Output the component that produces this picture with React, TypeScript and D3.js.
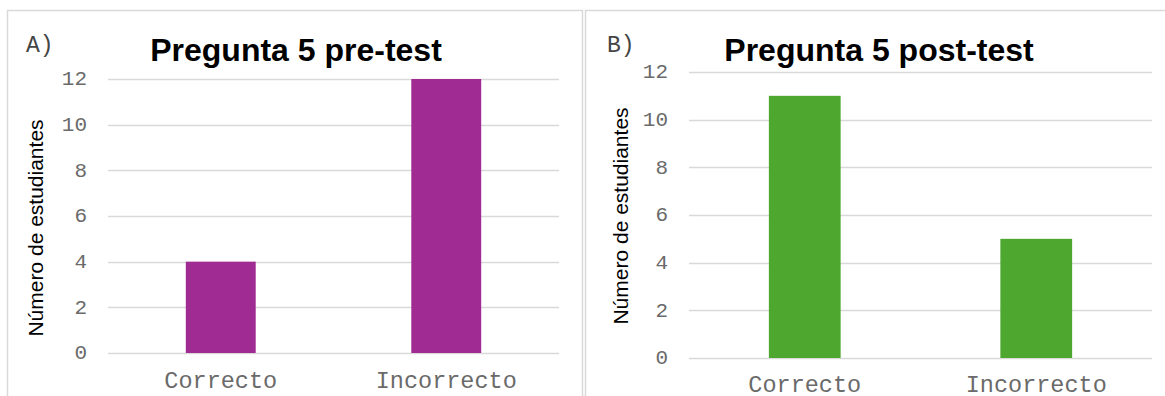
import React from "react";
import * as d3 from "d3";

const categories = ["Correcto", "Incorrecto"];
const preTestValues = [4, 12];
const postTestValues = [11, 5];
const yTicks = [0, 2, 4, 6, 8, 10, 12];
const panelTags = ["A)", "B)"];
const panelTitles = ["Pregunta 5 pre-test", "Pregunta 5 post-test"];
const yAxisTitle = "Número de estudiantes";

const W = 1165;
const H = 396;

const MONO = "'Courier New', 'Liberation Mono', monospace";
const SANS = "Arial, 'Liberation Sans', sans-serif";
const GRID = "#d9d9d9";
const TEXT_GRAY = "#6a6a6a";

type Panel = {
  tag: string;
  title: string;
  values: number[];
  color: string;
  frame: { x0: number; x1: number; y0: number };
  plot: { left: number; right: number; top: number; bottom: number };
  titleX: number;
  tagX: number;
  yTitleX: number;
  yTitleY: number;
  xLabelY: number;
};

const panels: Panel[] = [
  {
    tag: panelTags[0],
    title: panelTitles[0],
    values: preTestValues,
    color: "#A02B93",
    frame: { x0: 7, x1: 582, y0: 10 },
    plot: { left: 108, right: 559, top: 79, bottom: 353 },
    titleX: 296,
    tagX: 26,
    yTitleX: 43,
    yTitleY: 228,
    xLabelY: 388,
  },
  {
    tag: panelTags[1],
    title: panelTitles[1],
    values: postTestValues,
    color: "#4EA72E",
    frame: { x0: 585, x1: 1175, y0: 10 },
    plot: { left: 689, right: 1152, top: 72, bottom: 358 },
    titleX: 879,
    tagX: 607,
    yTitleX: 628,
    yTitleY: 216,
    xLabelY: 392,
  },
];

function ChartPanel({ p }: { p: Panel }) {
  const x = d3
    .scaleBand<string>()
    .domain(categories)
    .range([p.plot.left, p.plot.right])
    .paddingInner(0.69)
    .paddingOuter(0.345);
  const y = d3.scaleLinear().domain([0, 12]).range([p.plot.bottom, p.plot.top]);

  return (
    <g>
      <rect
        x={p.frame.x0 + 0.5}
        y={p.frame.y0 + 0.5}
        width={p.frame.x1 - p.frame.x0}
        height={H + 20}
        fill="#ffffff"
        stroke={GRID}
        strokeWidth={1.5}
      />
      {yTicks.map((t) => (
        <g key={t}>
          <line
            x1={p.plot.left}
            x2={p.plot.right}
            y1={Math.round(y(t)) + 0.5}
            y2={Math.round(y(t)) + 0.5}
            stroke={GRID}
            strokeWidth={1.3}
          />
          <text
            x={p.plot.left - 21}
            y={y(t)}
            dy="0.3em"
            textAnchor="end"
            fontFamily={MONO}
            fontSize={21}
            fill={TEXT_GRAY}
          >
            {t}
          </text>
        </g>
      ))}
      {categories.map((c, i) => (
        <rect
          key={c}
          x={x(c)}
          y={y(p.values[i])}
          width={x.bandwidth()}
          height={y(0) - y(p.values[i])}
          fill={p.color}
        />
      ))}
      {categories.map((c) => (
        <text
          key={c}
          x={(x(c) as number) + x.bandwidth() / 2}
          y={p.xLabelY}
          textAnchor="middle"
          fontFamily={MONO}
          fontSize={23.5}
          fill={TEXT_GRAY}
        >
          {c}
        </text>
      ))}
      <text
        transform={`translate(${p.yTitleX},${p.yTitleY}) rotate(-90)`}
        textAnchor="middle"
        fontFamily={SANS}
        fontSize={21}
        fill="#000"
      >
        {yAxisTitle}
      </text>
      <text
        x={p.titleX}
        y={61}
        textAnchor="middle"
        fontFamily={SANS}
        fontWeight="bold"
        fontSize={32}
        fill="#000"
      >
        {p.title}
      </text>
      <text x={p.tagX} y={52} fontFamily={MONO} fontSize={23} fill="#444">
        {p.tag}
      </text>
    </g>
  );
}

export default function App() {
  return (
    <svg
      width={W}
      height={H}
      viewBox={`0 0 ${W} ${H}`}
      style={{ position: "absolute", left: 0, top: 0, background: "#fff" }}
    >
      <rect x={0} y={0} width={W} height={H} fill="#fff" />
      {panels.map((p) => (
        <ChartPanel key={p.tag} p={p} />
      ))}
    </svg>
  );
}
